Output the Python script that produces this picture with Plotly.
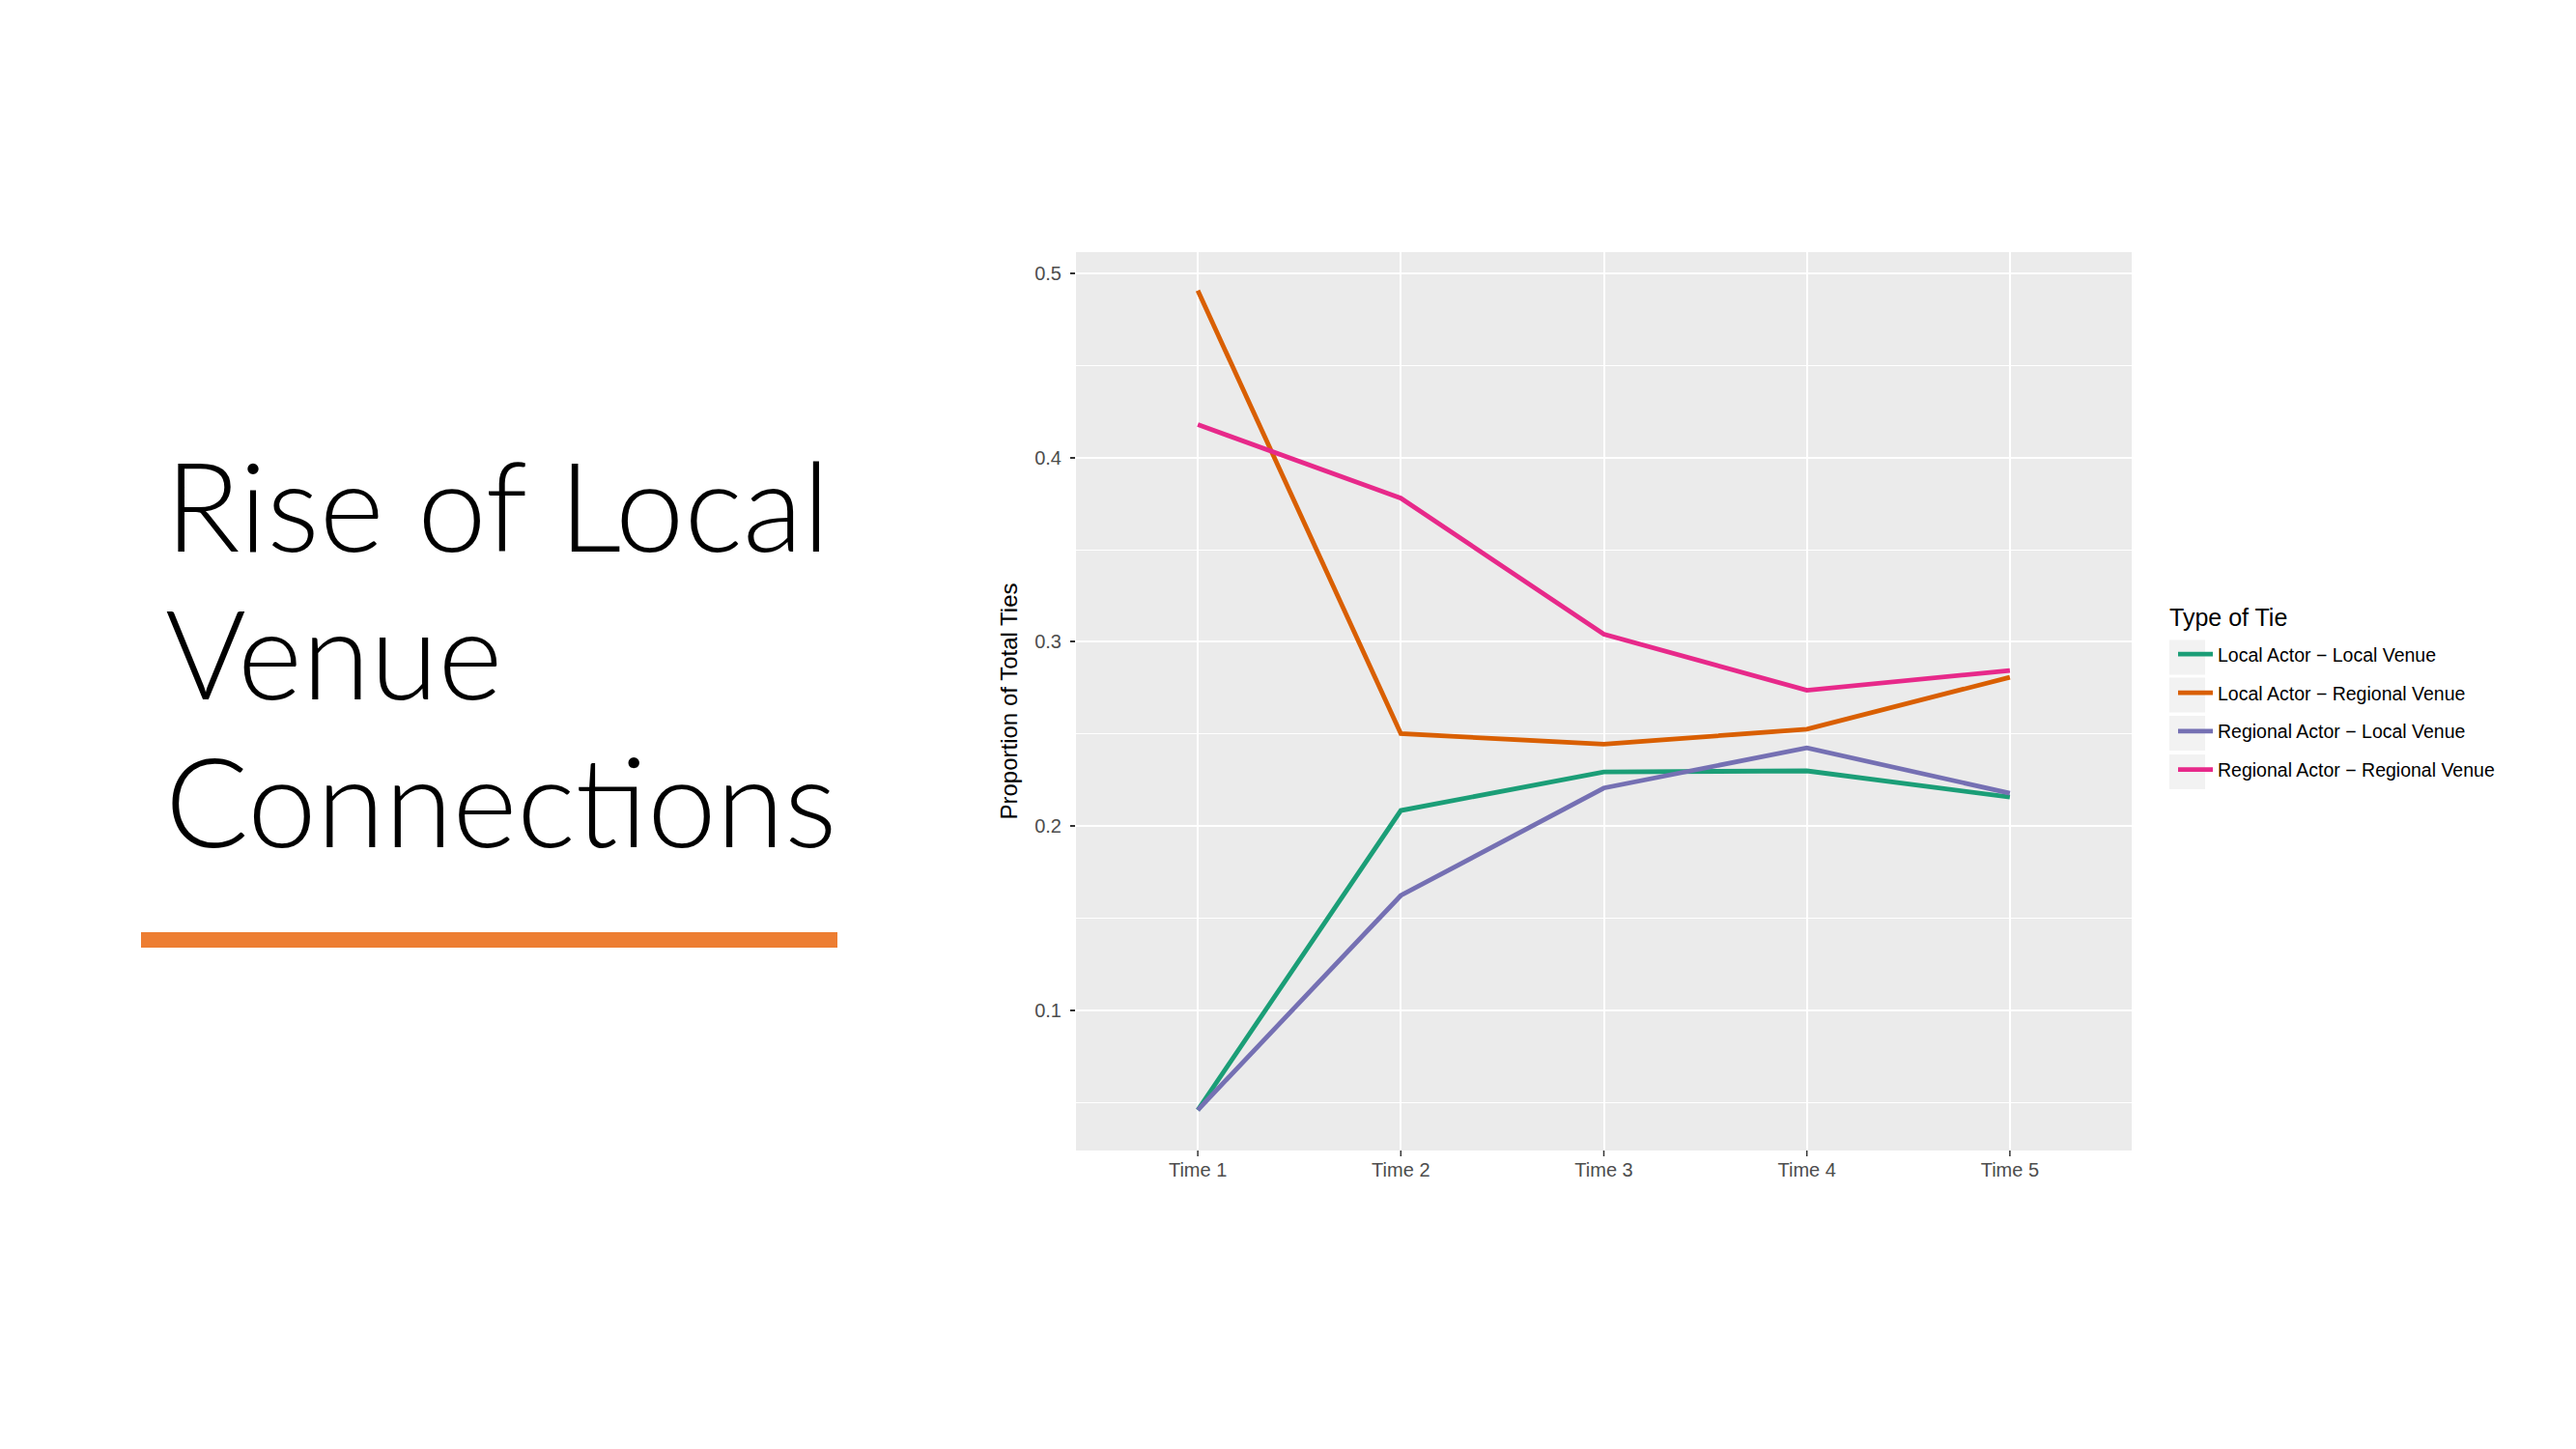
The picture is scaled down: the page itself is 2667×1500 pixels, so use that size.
import plotly.graph_objects as go

# data
times = ["Time 1", "Time 2", "Time 3", "Time 4", "Time 5"]
local_local = [0.046, 0.2085, 0.2294, 0.2300, 0.2158]
local_regional = [0.4906, 0.2502, 0.2445, 0.2526, 0.2808]
regional_local = [0.046, 0.1624, 0.2207, 0.2425, 0.2179]
regional_regional = [0.4179, 0.3780, 0.3042, 0.2737, 0.2845]

tie_types = [
    "Local Actor \u2212 Local Venue",
    "Local Actor \u2212 Regional Venue",
    "Regional Actor \u2212 Local Venue",
    "Regional Actor \u2212 Regional Venue",
]
series = [local_local, local_regional, regional_local, regional_regional]
colors = ["#1B9E77", "#D95F02", "#7570B3", "#E7298A"]

title_lines = ["Rise of Local", "Venue", "Connec\u200ctions"]

W, H = 2667, 1500


def px_x(x):
    return x / W


def px_y(y):
    return 1 - y / H


fig = go.Figure()
for name, vals, col in zip(tie_types, series, colors):
    fig.add_trace(go.Scatter(
        x=times, y=vals, name=name, mode="lines",
        line=dict(color=col, width=4.8),
        legendgroup=name,
    ))

sans = "Liberation Sans, Arial"
axis_font = dict(family=sans, size=20, color="#4d4d4d")

fig.update_layout(
    width=W, height=H,
    margin=dict(l=0, r=0, t=0, b=0),
    paper_bgcolor="white",
    plot_bgcolor="#ebebeb",
    showlegend=True,
    xaxis=dict(
        domain=[px_x(1106), px_x(2199)],
        range=[-0.6, 4.6],
        type="category",
        showgrid=True, gridcolor="white", gridwidth=2,
        zeroline=False,
        ticks="",
        ticklabelstandoff=6,
        tickfont=axis_font,
    ),
    yaxis=dict(
        domain=[px_y(1183), px_y(253)],
        range=[0.024, 0.5115],
        tickvals=[0.1, 0.2, 0.3, 0.4, 0.5],
        ticktext=["0.1", "0.2", "0.3", "0.4", "0.5"],
        showgrid=True, gridcolor="white", gridwidth=2,
        minor=dict(tickvals=[0.05, 0.15, 0.25, 0.35, 0.45], showgrid=True,
                   gridcolor="white", gridwidth=1.2, ticks=""),
        zeroline=False,
        ticks="outside", ticklen=5, tickwidth=1.5, tickcolor="#333333",
        ticklabelstandoff=5,
        tickfont=axis_font,
        title=dict(text="Proportion of Total Ties", standoff=10,
                   font=dict(family=sans, size=24, color="black")),
    ),
    legend=dict(
        font=dict(family=sans, size=19.5, color="black"),
        x=px_x(2242), xanchor="left",
        y=px_y(650), yanchor="top",
        bgcolor="rgba(0,0,0,0)",
        tracegroupgap=11.5,
        itemwidth=36,
    ),
)

# x tick marks (ggplot style, labels sit close to the panel)
for t in times:
    fig.add_shape(type="line", xref="x", yref="paper",
                  x0=t, x1=t, y0=px_y(1183), y1=px_y(1189),
                  line=dict(color="#333333", width=1.5))

# legend title
fig.add_annotation(text="Type of Tie", xref="paper", yref="paper",
                   x=px_x(2236), y=px_y(631), xanchor="left", yanchor="middle",
                   showarrow=False, font=dict(family=sans, size=25, color="black"))

# grey key boxes behind legend symbols
for yc in [672.5, 711.5, 751, 791]:
    fig.add_shape(type="rect", xref="paper", yref="paper",
                  x0=px_x(2238), x1=px_x(2275), y0=px_y(yc + 18), y1=px_y(yc - 18),
                  fillcolor="#f2f2f2", line=dict(width=0), layer="below")

# slide title on the left
title_font = dict(family="Lato", size=128, color="black", weight=300)
for line, ybase in zip(title_lines, [564, 717, 870]):
    fig.add_annotation(text=line, xref="paper", yref="paper",
                       x=px_x(161), y=px_y(ybase + 28), xanchor="left", yanchor="bottom",
                       showarrow=False, font=title_font)

# orange brush underline
fig.add_shape(type="line", xref="paper", yref="paper",
              x0=px_x(138), x1=px_x(859), y0=px_y(965), y1=px_y(965),
              line=dict(color="#ED7D31", width=16))

fig.write_html("out.html")
